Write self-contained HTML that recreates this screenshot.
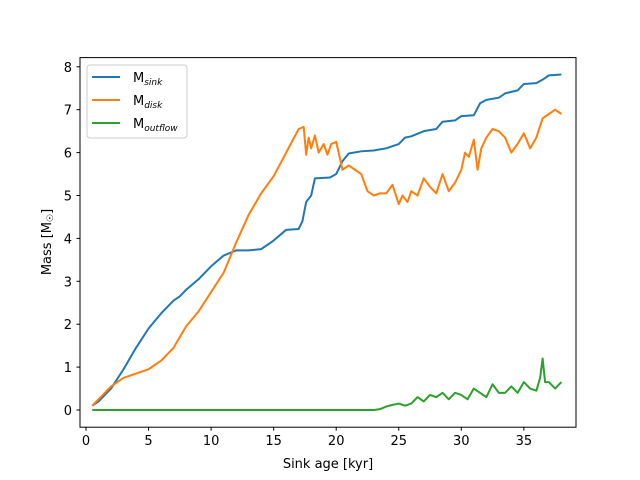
<!DOCTYPE html>
<html><head><meta charset="utf-8"><style>
body{margin:0;background:#fff}
svg{display:block;font-family:"DejaVu Sans","Liberation Sans",sans-serif}
</style></head><body>
<svg id="chart" width="640" height="480" viewBox="0 0 640 480">
<rect width="640" height="480" fill="#fff"/>
<g id="plot"></g>
<rect x="80" y="57.6" width="496" height="369.6" fill="none" stroke="#000" stroke-width="1"/>
<g id="xt"></g>
<g id="yt"></g>
<text x="328" y="468" font-size="13" text-anchor="middle">Sink age [kyr]</text>
<text transform="translate(51,242) rotate(-90)" font-size="13" text-anchor="middle">Mass [M<tspan font-size="9" dy="2">☉</tspan><tspan dy="-2">]</tspan></text>
<g>
<rect x="87" y="65" width="100" height="73" rx="3" fill="#fff" fill-opacity="0.8" stroke="#ccc"/>
<g><line x1="92" y1="77" x2="120" y2="77" stroke="#1f77b4" stroke-width="2"/><text x="133" y="82" font-size="13">M<tspan font-size="9" font-style="italic" dy="3">sink</tspan></text></g>
<g><line x1="92" y1="100" x2="120" y2="100" stroke="#ff7f0e" stroke-width="2"/><text x="133" y="105" font-size="13">M<tspan font-size="9" font-style="italic" dy="3">disk</tspan></text></g>
<g><line x1="92" y1="123" x2="120" y2="123" stroke="#2ca02c" stroke-width="2"/><text x="133" y="128" font-size="13">M<tspan font-size="9" font-style="italic" dy="3">outflow</tspan></text></g>
</g>
</svg>
<script>
const xTicks=[0,5,10,15,20,25,30,35];
const yTicks=[0,1,2,3,4,5,6,7,8];
const sinkX=[0.5,1,2,3,4,5,6,7,7.5,8,9,10,11,12,13,14,15,16,17,17.3,17.6,18,18.3,19.5,20,20.5,21,22,23,24,25,25.5,26,27,28,28.5,29.5,30,31,31.5,32,33,33.5,34.5,35,36,36.5,37,38];
const sinkY=[0.1,0.2,0.5,0.95,1.45,1.9,2.25,2.55,2.65,2.8,3.05,3.35,3.6,3.72,3.72,3.75,3.95,4.2,4.22,4.4,4.85,5.0,5.4,5.42,5.5,5.8,5.98,6.03,6.05,6.1,6.2,6.35,6.38,6.5,6.55,6.72,6.75,6.85,6.87,7.15,7.23,7.28,7.38,7.45,7.6,7.62,7.7,7.8,7.82];
const diskX=[0.5,2,3,4,5,6,7,8,9,10,11,12,13,14,15,16,17,17.4,17.6,17.8,18,18.3,18.6,19,19.3,19.6,20,20.5,21,21.5,22,22.5,23,23.5,24,24.5,25,25.3,25.7,26,26.5,27,27.5,28,28.5,29,29.5,30,30.3,30.6,31,31.3,31.6,32,32.5,33,33.5,34,34.5,35,35.5,36,36.5,37,37.5,38];
const diskY=[0.1,0.55,0.75,0.85,0.95,1.15,1.45,1.95,2.3,2.75,3.2,3.9,4.55,5.05,5.45,6.0,6.55,6.6,5.95,6.35,6.1,6.4,6.0,6.2,5.95,6.2,6.25,5.6,5.7,5.6,5.5,5.1,5.0,5.05,5.05,5.25,4.8,5.0,4.85,5.1,5.0,5.4,5.2,5.05,5.5,5.1,5.3,5.6,6.0,5.9,6.3,5.6,6.1,6.35,6.55,6.5,6.35,6.0,6.2,6.45,6.1,6.35,6.8,6.9,7.0,6.9];
const outX=[0.5,23,23.5,24,24.5,25,25.5,26,26.5,27,27.5,28,28.5,29,29.5,30,30.5,31,31.5,32,32.5,33,33.5,34,34.5,35,35.5,36,36.3,36.5,36.7,37,37.5,38];
const outY=[0,0,0.02,0.08,0.12,0.15,0.1,0.15,0.3,0.2,0.35,0.3,0.4,0.25,0.4,0.35,0.25,0.5,0.4,0.3,0.6,0.4,0.4,0.55,0.4,0.65,0.5,0.45,0.75,1.2,0.65,0.65,0.5,0.65];
const NS='http://www.w3.org/2000/svg';
function sx(v){return 86+12.51*v;}
function sy(v){return 410-42.9*v;}
function line(xs,ys,color,name){
  const p=document.createElementNS(NS,'polyline');
  p.setAttribute('points',xs.map((x,i)=>sx(x)+','+sy(ys[i])).join(' '));
  p.setAttribute('fill','none');p.setAttribute('stroke',color);p.setAttribute('stroke-width','2');p.setAttribute('stroke-linejoin','round');
  
  
  document.getElementById('plot').appendChild(p);
}
line(sinkX,sinkY,'#1f77b4','sink-mass-line');
line(diskX,diskY,'#ff7f0e','disk-mass-line');
line(outX,outY,'#2ca02c','outflow-mass-line');
const xt=document.getElementById('xt'),yt=document.getElementById('yt');
xTicks.forEach(t=>{
  const g=document.createElementNS(NS,'g');
  
  
  g.innerHTML=`<line x1="${sx(t)}" y1="427.2" x2="${sx(t)}" y2="430.7" stroke="#000"/><text x="${sx(t)}" y="445" font-size="13" text-anchor="middle">${t}</text>`;
  xt.appendChild(g);
});
yTicks.forEach(t=>{
  const g=document.createElementNS(NS,'g');
  
  
  g.innerHTML=`<line x1="76.5" y1="${sy(t)}" x2="80" y2="${sy(t)}" stroke="#000"/><text x="72" y="${sy(t)+5}" font-size="13" text-anchor="end">${t}</text>`;
  yt.appendChild(g);
});
</script>
</body></html>
